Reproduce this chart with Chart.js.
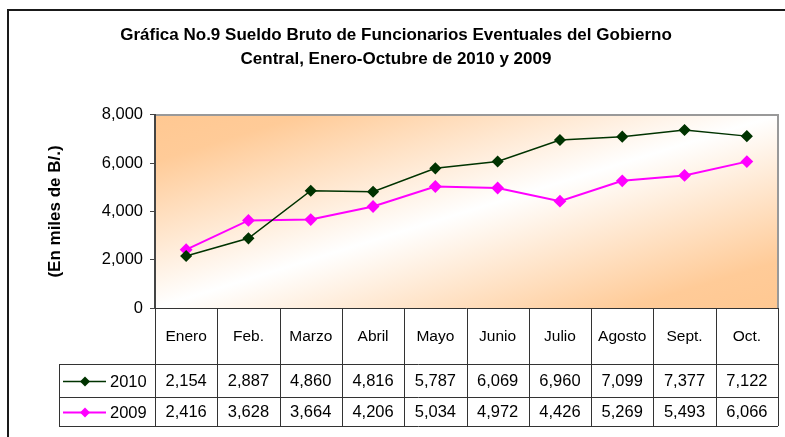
<!DOCTYPE html>
<html>
<head>
<meta charset="utf-8">
<script src="https://cdn.jsdelivr.net/npm/chart.js@4.4.0/dist/chart.umd.min.js"></script>
<style>
  body { margin: 0; background: #fff; }
  #wrap { width: 785px; height: 437px; position: relative; }
</style>
</head>
<body>
<div id="wrap"><canvas id="sueldoChart"></canvas></div>
<script>
// data
const months = ['Enero', 'Feb.', 'Marzo', 'Abril', 'Mayo', 'Junio', 'Julio', 'Agosto', 'Sept.', 'Oct.'];
const sueldo2010 = [2154, 2887, 4860, 4816, 5787, 6069, 6960, 7099, 7377, 7122];
const sueldo2009 = [2416, 3628, 3664, 4206, 5034, 4972, 4426, 5269, 5493, 6066];
const yTickValues = [0, 2000, 4000, 6000, 8000];
const titleLines = ['Gráfica No.9 Sueldo Bruto de Funcionarios Eventuales del Gobierno', 'Central, Enero-Octubre de 2010 y 2009'];
const yTitle = '(En miles de B/.)';

const FONT = "'Liberation Sans', Arial, sans-serif";
const fmt = v => v.toLocaleString('en-US');

// outer frame + diagonal gradient behind the plot
const backgroundPlugin = {
    id: 'background',
    beforeDraw(chart) {
        const { ctx, chartArea: a } = chart;
        ctx.save();
        ctx.strokeStyle = '#1a1a1a';
        ctx.lineWidth = 2;
        ctx.beginPath();
        ctx.moveTo(8, 437);
        ctx.lineTo(8, 10);
        ctx.lineTo(785, 10);
        ctx.stroke();

        const w = a.right - a.left, h = a.bottom - a.top;
        const cx = a.left + w / 2, cy = a.top + h / 2;
        const k = w * h / (w * w + h * h);
        const g = ctx.createLinearGradient(cx - h * k, cy - w * k, cx + h * k, cy + w * k);
        g.addColorStop(0, '#ffc892');
        g.addColorStop(0.12, '#ffcb98');
        g.addColorStop(0.5, '#ffffff');
        g.addColorStop(0.88, '#ffcb98');
        g.addColorStop(1, '#ffc892');
        ctx.fillStyle = g;
        ctx.fillRect(a.left, a.top, w, h);

        ctx.strokeStyle = '#999';
        ctx.lineWidth = 2;
        ctx.beginPath();
        ctx.moveTo(a.left, a.top);
        ctx.lineTo(a.right, a.top);
        ctx.lineTo(a.right, a.bottom);
        ctx.stroke();
        ctx.restore();
    }
};

// data table under the plot, columns aligned to the category scale
const tablePlugin = {
    id: 'dataTable',
    afterDraw(chart) {
        const { ctx, chartArea: a, scales } = chart;
        const xs = scales.x;
        const n = chart.data.labels.length;
        const colW = (a.right - a.left) / n;
        const rowH = [56, 33, 29];
        const y0 = a.bottom, y1 = y0 + rowH[0], y2 = y1 + rowH[1], y3 = y2 + rowH[2];
        const legendLeft = 59;

        ctx.save();
        ctx.strokeStyle = '#333';
        ctx.lineWidth = 1;
        ctx.beginPath();
        ctx.moveTo(a.left, y0 + 0.5); ctx.lineTo(a.right, y0 + 0.5);
        [y1, y2, y3].forEach(y => { ctx.moveTo(legendLeft, y + 0.5); ctx.lineTo(a.right, y + 0.5); });
        for (let i = 0; i <= n; i++) {
            const x = Math.round(a.left + i * colW) + 0.5;
            ctx.moveTo(x, y0); ctx.lineTo(x, y3);
        }
        ctx.moveTo(legendLeft + 0.5, y1); ctx.lineTo(legendLeft + 0.5, y3);
        ctx.stroke();

        ctx.fillStyle = '#000';
        ctx.font = '15.5px ' + FONT;
        ctx.textAlign = 'center';
        ctx.textBaseline = 'middle';
        chart.data.labels.forEach((lab, i) => {
            ctx.fillText(lab, xs.getPixelForValue(i), (y0 + y1) / 2 + 1);
        });

        ctx.font = '16.5px ' + FONT;
        const rows = [[y1, y2], [y2, y3]];
        chart.data.datasets.forEach((ds, di) => {
            const cy = (rows[di][0] + rows[di][1]) / 2 + 1;
            ds.data.forEach((v, i) => {
                ctx.textAlign = 'center';
                ctx.fillText(fmt(v), xs.getPixelForValue(i), cy);
            });
            // legend key
            ctx.strokeStyle = ds.borderColor;
            ctx.lineWidth = ds.borderWidth;
            ctx.beginPath();
            ctx.moveTo(63, cy); ctx.lineTo(106, cy);
            ctx.stroke();
            ctx.fillStyle = ds.pointBackgroundColor;
            ctx.beginPath();
            ctx.moveTo(85, cy - 5); ctx.lineTo(90, cy); ctx.lineTo(85, cy + 5); ctx.lineTo(80, cy);
            ctx.closePath();
            ctx.fill();
            ctx.fillStyle = '#000';
            ctx.textAlign = 'left';
            ctx.fillText(ds.label, 110, cy + 1);
        });
        ctx.restore();
    }
};

new Chart(document.getElementById('sueldoChart'), {
    type: 'line',
    data: {
        labels: months,
        datasets: [
            {
                label: '2010',
                data: sueldo2010,
                borderColor: '#003300',
                backgroundColor: '#003300',
                pointBackgroundColor: '#003300',
                pointBorderColor: '#003300',
                borderWidth: 1.5,
                pointStyle: 'rectRot',
                pointRadius: 5,
                tension: 0
            },
            {
                label: '2009',
                data: sueldo2009,
                borderColor: '#ff00ff',
                backgroundColor: '#ff00ff',
                pointBackgroundColor: '#ff00ff',
                pointBorderColor: '#ff00ff',
                borderWidth: 2,
                pointStyle: 'rectRot',
                pointRadius: 5,
                tension: 0
            }
        ]
    },
    options: {
        responsive: true,
        maintainAspectRatio: false,
        animation: false,
        layout: { padding: { left: 8, right: 1, top: 0, bottom: 129 } },
        plugins: {
            legend: { display: false },
            tooltip: { enabled: false },
            title: {
                display: true,
                text: titleLines,
                color: '#000',
                font: { family: FONT, size: 17, weight: 'bold', lineHeight: 1.41 },
                padding: { top: 23, bottom: 44 }
            }
        },
        scales: {
            x: {
                type: 'category',
                offset: true,
                display: false
            },
            y: {
                min: 0,
                max: 8000,
                afterFit(scale) { scale.width = 147; },
                afterBuildTicks(scale) { scale.ticks = yTickValues.map(v => ({ value: v })); },
                ticks: {
                    color: '#000',
                    font: { family: FONT, size: 16.5 },
                    padding: 7,
                    callback: v => fmt(v)
                },
                grid: { drawOnChartArea: false, drawTicks: true, tickLength: 5, color: '#444' },
                border: { color: '#444', width: 2 },
                title: {
                    display: true,
                    text: yTitle,
                    color: '#000',
                    font: { family: FONT, size: 17, weight: 'bold' },
                    padding: { top: 37, bottom: 0 }
                }
            }
        }
    },
    plugins: [backgroundPlugin, tablePlugin]
});
</script>
</body>
</html>
